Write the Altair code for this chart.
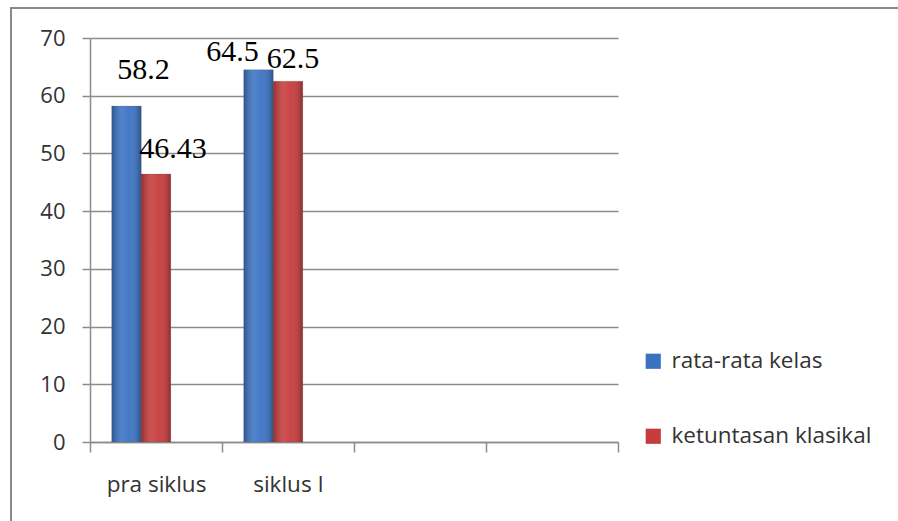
import altair as alt
import pandas as pd

# ---- data ----
categories = ["pra siklus", "siklus I", "_c3", "_c4"]
series_names = ["rata-rata kelas", "ketuntasan klasikal"]
rata_rata_kelas = [58.2, 64.5]
ketuntasan_klasikal = [46.43, 62.5]
label_texts_rata = ["58.2", "64.5"]
label_texts_ketuntasan = ["46.43", "62.5"]
y_ticks = [0, 10, 20, 30, 40, 50, 60, 70]

rows = []
for i, cat in enumerate(categories[:2]):
    rows.append({"kategori": cat, "seri": series_names[0], "nilai": rata_rata_kelas[i], "label": label_texts_rata[i]})
    rows.append({"kategori": cat, "seri": series_names[1], "nilai": ketuntasan_klasikal[i], "label": label_texts_ketuntasan[i]})
df = pd.DataFrame(rows)

SANS = "Open Sans"
TXT = "#333333"
GRID = "#8c8c8c"

x_enc = alt.X(
    "kategori:N",
    scale=alt.Scale(domain=categories, paddingInner=0, paddingOuter=0),
    axis=alt.Axis(
        title=None, labelAngle=0, tickBand="extent",
        labelExpr="indexof(['pra siklus','siklus I'], datum.value) >= 0 ? datum.value : ''",
        labelFont=SANS, labelFontSize=22.5, labelColor=TXT,
        labelBaseline="alphabetic", labelPadding=39,
        tickSize=10, tickColor=GRID, domainColor=GRID, domainWidth=1.5, tickWidth=1.5,
        grid=False,
    ),
)
xoff_enc = alt.XOffset(
    "seri:N",
    scale=alt.Scale(domain=series_names + ["_pad"], paddingInner=0, paddingOuter=0.737),
)
y_enc = alt.Y(
    "nilai:Q",
    scale=alt.Scale(domain=[0, 70], nice=False),
    axis=alt.Axis(
        title=None, values=y_ticks, grid=True, gridColor=GRID, gridWidth=1.5,
        labelFont=SANS, labelFontSize=22, labelColor=TXT, labelPadding=17,
        tickSize=8, tickColor=GRID, tickWidth=1.5, domainColor=GRID, domainWidth=1.5,
    ),
)

color_enc = alt.Color(
    "seri:N",
    scale=alt.Scale(domain=series_names, range=["#3a72c2", "#c63b3b"]),
    legend=alt.Legend(
        title=None, orient="none", legendX=552, legendY=312,
        labelFont=SANS, labelFontSize=22.5, labelColor=TXT, labelLimit=0,
        symbolType="square", symbolSize=230, symbolStrokeWidth=0,
        rowPadding=52, labelOffset=7,
    ),
)

frame = alt.Chart(pd.DataFrame({"f": [0]})).mark_rect(
    stroke="#8a8a8a", strokeWidth=2, fillOpacity=0
).encode(x=alt.value(-79), x2=alt.value(830), y=alt.value(-30), y2=alt.value(500))

base = alt.Chart(df)

bars = base.mark_bar(stroke="#555555", strokeWidth=0.4, strokeOpacity=0.5).encode(
    x=x_enc, xOffset=xoff_enc, y=y_enc, color=color_enc
)

shade = base.mark_bar(
    fill=alt.Gradient(
        gradient="linear", x1=0, x2=1, y1=0, y2=0,
        stops=[
            alt.GradientStop(color="rgba(0,0,0,0.25)", offset=0),
            alt.GradientStop(color="rgba(255,255,255,0.12)", offset=0.35),
            alt.GradientStop(color="rgba(255,255,255,0.05)", offset=0.6),
            alt.GradientStop(color="rgba(0,0,0,0.28)", offset=1),
        ],
    )
).encode(x=alt.X("kategori:N"), xOffset=alt.XOffset("seri:N"), y=alt.Y("nilai:Q"))

label_style = [
    (categories[0], series_names[0], 17, -27),
    (categories[0], series_names[1], 17, -16),
    (categories[1], series_names[0], -26, -9),
    (categories[1], series_names[1], 5, -13),
]
texts = []
for cat, ser, dx, dy in label_style:
    texts.append(
        base.transform_filter(
            (alt.datum.kategori == cat) & (alt.datum.seri == ser)
        ).mark_text(
            font="Liberation Serif", fontSize=30, color="#000000",
            align="center", baseline="alphabetic", dx=dx, dy=dy,
        ).encode(
            x=alt.X("kategori:N"), xOffset=alt.XOffset("seri:N"),
            y=alt.Y("nilai:Q"), text="label:N",
        )
    )

chart = alt.layer(frame, bars, shade, *texts).properties(
    width=528, height=404,
    autosize=alt.AutoSizeParams(type="none"),
    padding={"left": 90, "top": 38, "right": 280, "bottom": 79},
    background="#ffffff",
).configure_view(stroke=None)

chart.save("out.html", embed_options={"renderer": "svg", "actions": False})
